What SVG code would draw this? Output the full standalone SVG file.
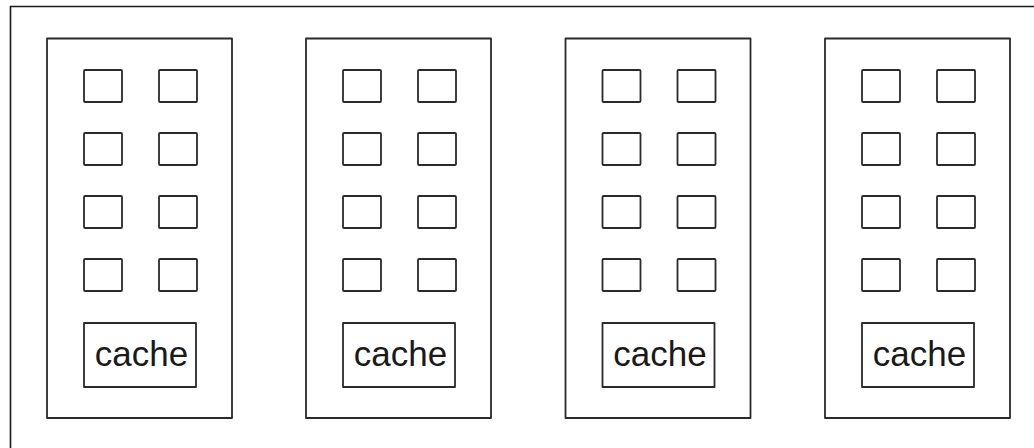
<svg xmlns="http://www.w3.org/2000/svg" width="1034" height="448" viewBox="0 0 1034 448">
  <style>
    .frame { fill: none; stroke: #1a1a1a; stroke-width: 1.6; }
    .box { fill: #ffffff; stroke: #2a2a2a; stroke-width: 1.8; stroke-linejoin: round; }
    .core { fill: #ffffff; stroke: #2a2a2a; stroke-width: 1.8; stroke-linejoin: round; }
    .label { font-family: "Liberation Sans", Arial, sans-serif; font-size: 35px; fill: #1a1a1a; text-anchor: middle; }
  </style>
  <defs>
    <!-- one processor: eight cores in a 2x4 grid plus a shared cache -->
    <g id="cpu">
      <rect class="box" x="0" y="0" width="185" height="379.5"/>
      <rect class="core" x="37" y="31.5" width="38" height="32" rx="1"/>
      <rect class="core" x="112" y="31.5" width="38" height="32" rx="1"/>
      <rect class="core" x="37" y="94.5" width="38" height="32" rx="1"/>
      <rect class="core" x="112" y="94.5" width="38" height="32" rx="1"/>
      <rect class="core" x="37" y="157.5" width="38" height="32" rx="1"/>
      <rect class="core" x="112" y="157.5" width="38" height="32" rx="1"/>
      <rect class="core" x="37" y="220.5" width="38" height="32" rx="1"/>
      <rect class="core" x="112" y="220.5" width="38" height="32" rx="1"/>
      <rect class="core" x="37" y="284.5" width="112" height="64"/>
      <text class="label" x="94.5" y="327.5">cache</text>
    </g>
  </defs>
  <rect width="1034" height="448" fill="#ffffff"/>
  <!-- enclosing frame (left and top edges) -->
  <path class="frame" d="M10.5 448 V6.5 H1034"/>
  <g id="cpu1" transform="translate(47,38.5)"><use href="#cpu"/></g>
  <g id="cpu2" transform="translate(306,38.5)"><use href="#cpu"/></g>
  <g id="cpu3" transform="translate(565.5,38.5)"><use href="#cpu"/></g>
  <g id="cpu4" transform="translate(825,38.5)"><use href="#cpu"/></g>
  <g id="connectors"></g>
</svg>
